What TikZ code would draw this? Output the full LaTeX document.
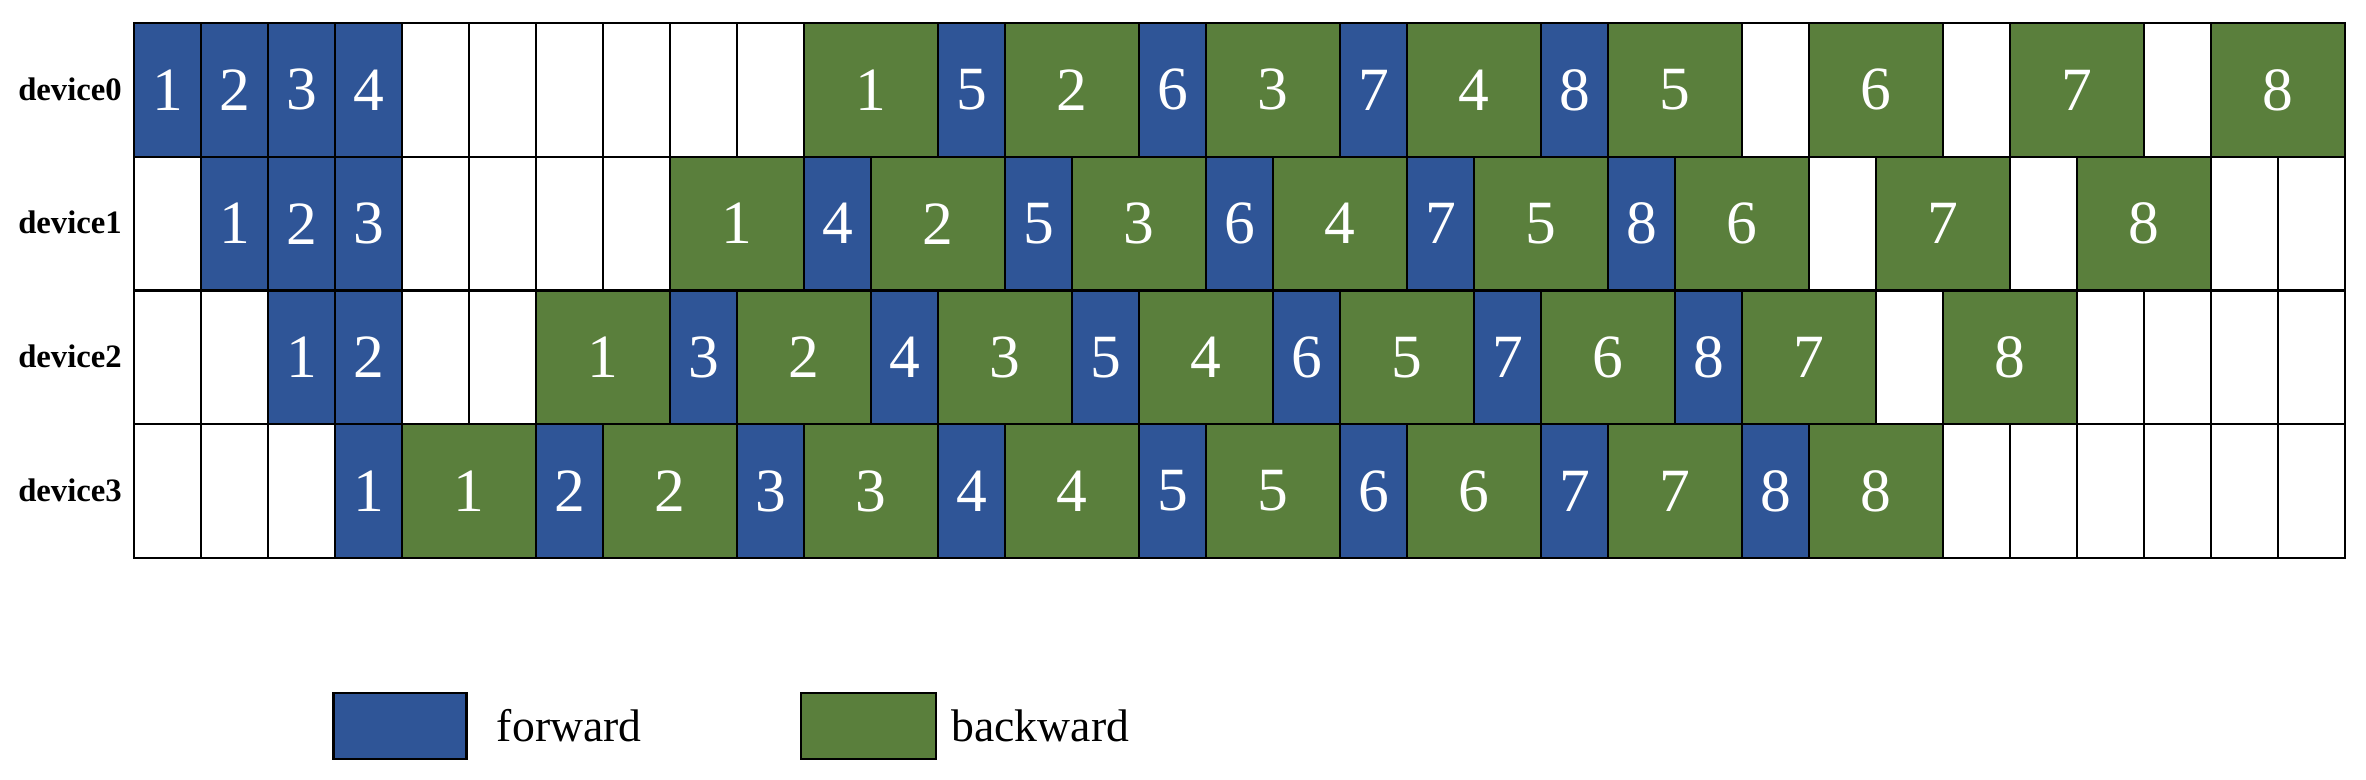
\documentclass[tikz,border=0pt]{standalone}
\usepackage{fontspec}
\setmainfont{Liberation Serif}
\usetikzlibrary{positioning}
\definecolor{fwdblue}{HTML}{2F5597}
\definecolor{bwdgreen}{HTML}{5A7F3C}
\tikzset{
  cell/.style={
    rectangle,
    draw=black,
    line width=0.6pt,
    minimum height=1.3375cm,
    inner sep=0pt,
    anchor=north west,
    text=white,
    font=\fontsize{17.5}{20}\selectfont
  },
  emptybox/.style={cell, fill=white, minimum width=0.67cm},
  fwdbox/.style={cell, fill=fwdblue, minimum width=0.67cm},
  bwdbox/.style={cell, fill=bwdgreen, minimum width=1.34cm},
  devlabel/.style={font=\bfseries\fontsize{9.3}{11}\selectfont},
  legtext/.style={font=\fontsize{13}{15}\selectfont}
}

\begin{document}
\begin{tikzpicture}
\useasboundingbox (0,0) rectangle (23.66,7.80);
% empty grid
\foreach \r in {0,...,3} {
  \foreach \c in {0,...,32} {
    \node[emptybox] (cell-\r-\c) at ({1.33+\c*0.67}, {7.58-\r*1.3375}) {};
  }
  \node[devlabel] (dev\r) at (0.70, {7.58-(\r+0.5)*1.3375}) {device\r};
}
% forward / backward blocks: row / forward list / backward list
\foreach \r/\fl/\bl in {
  0/{0/1,1/2,2/3,3/4,12/5,15/6,18/7,21/8}/{10/1,13/2,16/3,19/4,22/5,25/6,28/7,31/8},
  1/{1/1,2/2,3/3,10/4,13/5,16/6,19/7,22/8}/{8/1,11/2,14/3,17/4,20/5,23/6,26/7,29/8},
  2/{2/1,3/2,8/3,11/4,14/5,17/6,20/7,23/8}/{6/1,9/2,12/3,15/4,18/5,21/6,24/7,27/8},
  3/{3/1,6/2,9/3,12/4,15/5,18/6,21/7,24/8}/{4/1,7/2,10/3,13/4,16/5,19/6,22/7,25/8}} {
  \foreach \c/\k in \fl {
    \node[fwdbox] (d\r f\k) at ({1.33+\c*0.67}, {7.58-\r*1.3375}) {\k};
  }
  \foreach \c/\k in \bl {
    \node[bwdbox] (d\r b\k) at ({1.33+\c*0.67}, {7.58-\r*1.3375}) {\k};
  }
}
% legend
\node[fwdbox, anchor=center, minimum width=1.33cm, minimum height=0.66cm] (legf) at (4.0, 0.54) {};
\node[legtext, right=0.17cm of legf] (legftext) {forward};
\node[bwdbox, anchor=center, minimum width=1.35cm, minimum height=0.66cm] (legb) at (8.685, 0.54) {};
\node[legtext, right=0.02cm of legb] (legbtext) {backward};
\end{tikzpicture}
\end{document}
